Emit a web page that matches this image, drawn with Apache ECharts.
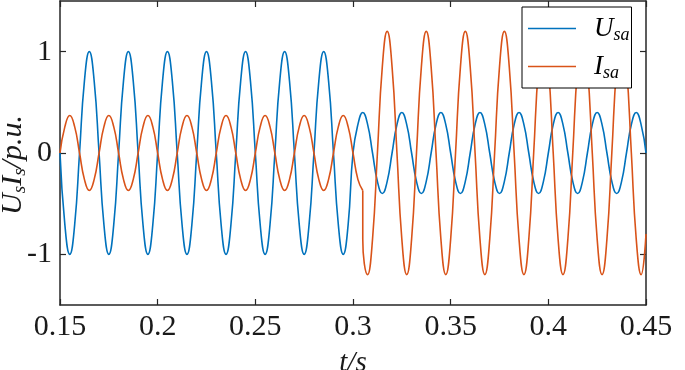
<!DOCTYPE html>
<html><head><meta charset="utf-8">
<script src="https://cdn.jsdelivr.net/npm/echarts@6/dist/echarts.min.js"></script>
<style>html,body{margin:0;padding:0;background:#fff}#c{width:685px;height:370px}</style>
</head><body><div id="c"></div>
<script>
// sample times (s), 1/8 of a 50 Hz period apart
const time = [
0.15,0.1525,0.155,0.1575,0.16,0.1625,0.165,0.1675,
0.17,0.1725,0.175,0.1775,0.18,0.1825,0.185,0.1875,
0.19,0.1925,0.195,0.1975,0.2,0.2025,0.205,0.2075,
0.21,0.2125,0.215,0.2175,0.22,0.2225,0.225,0.2275,
0.23,0.2325,0.235,0.2375,0.24,0.2425,0.245,0.2475,
0.25,0.2525,0.255,0.2575,0.26,0.2625,0.265,0.2675,
0.27,0.2725,0.275,0.2775,0.28,0.2825,0.285,0.2875,
0.29,0.2925,0.295,0.2975,0.3,0.3025,0.305,0.3075,
0.31,0.3125,0.315,0.3175,0.32,0.3225,0.325,0.3275,
0.33,0.3325,0.335,0.3375,0.34,0.3425,0.345,0.3475,
0.35,0.3525,0.355,0.3575,0.36,0.3625,0.365,0.3675,
0.37,0.3725,0.375,0.3775,0.38,0.3825,0.385,0.3875,
0.39,0.3925,0.395,0.3975,0.4,0.4025,0.405,0.4075,
0.41,0.4125,0.415,0.4175,0.42,0.4225,0.425,0.4275,
0.43,0.4325,0.435,0.4375,0.44,0.4425,0.445,0.4475,
0.45
];
// U_sa (p.u.) at each sample time
const usa = [
0,-0.71,-1,-0.71,0,0.71,1,0.71,
0,-0.71,-1,-0.71,0,0.71,1,0.71,
0,-0.71,-1,-0.71,0,0.71,1,0.71,
0,-0.71,-1,-0.71,0,0.71,1,0.71,
0,-0.71,-1,-0.71,0,0.71,1,0.71,
0,-0.71,-1,-0.71,0,0.71,1,0.71,
0,-0.71,-1,-0.71,0,0.71,1,0.71,
0,-0.71,-1,-0.71,0,0.28,0.4,0.28,
0,-0.28,-0.4,-0.28,0,0.28,0.4,0.28,
0,-0.28,-0.4,-0.28,0,0.28,0.4,0.28,
0,-0.28,-0.4,-0.28,0,0.28,0.4,0.28,
0,-0.28,-0.4,-0.28,0,0.28,0.4,0.28,
0,-0.28,-0.4,-0.28,0,0.28,0.4,0.28,
0,-0.28,-0.4,-0.28,0,0.28,0.4,0.28,
0,-0.28,-0.4,-0.28,0,0.28,0.4,0.28,
0
];
// I_sa before the step (times 0.15 .. 0.305)
const isaBefore = [
0,0.26,0.37,0.26,0,-0.26,-0.37,-0.26,
0,0.26,0.37,0.26,0,-0.26,-0.37,-0.26,
0,0.26,0.37,0.26,0,-0.26,-0.37,-0.26,
0,0.26,0.37,0.26,0,-0.26,-0.37,-0.26,
0,0.26,0.37,0.26,0,-0.26,-0.37,-0.26,
0,0.26,0.37,0.26,0,-0.26,-0.37,-0.26,
0,0.26,0.37,0.26,0,-0.26,-0.37,-0.26,
0,0.26,0.37,0.26,0,-0.26,-0.37
];
// I_sa after the step (times 0.305 .. 0.45)
const isaAfter = [
-0.85,
-1.2,-0.85,0,0.85,1.2,0.85,0,-0.85,
-1.2,-0.85,0,0.85,1.2,0.85,0,-0.85,
-1.2,-0.85,0,0.85,1.2,0.85,0,-0.85,
-1.2,-0.85,0,0.85,1.2,0.85,0,-0.85,
-1.2,-0.85,0,0.85,1.2,0.85,0,-0.85,
-1.2,-0.85,0,0.85,1.2,0.85,0,-0.85,
-1.2,-0.85,0,0.85,1.2,0.85,0,-0.85,
-1.2,-0.8
];
const xTicks = [0.15,0.2,0.25,0.3,0.35,0.4,0.45];
const yTicks = [-1,0,1];
const seriesNames = ['Usa','Isa'];

const stepIdx = isaBefore.length - 1;
const usaData = usa.map((v,i)=>[time[i], v]);
const isa1Data = isaBefore.map((v,i)=>[time[i], v]);
const isa2Data = [[time[stepIdx], isaBefore[stepIdx]]].concat(isaAfter.map((v,i)=>[time[stepIdx+i], v]));

const FONT = 'Liberation Serif';
const AXC = '#262626';
const TXT = '#1a1a1a';
const axisLine = {show:true, onZero:false, lineStyle:{color:AXC, width:1.5}};

const chart = echarts.init(document.getElementById('c'), null, {renderer:'canvas'});
chart.setOption({
  animation:false,
  backgroundColor:'#fff',
  grid:{left:60, right:39, top:1, bottom:65, containLabel:false, outerBoundsMode:'none'},
  legend:{
    orient:'vertical', left:522, top:7,
    data:seriesNames,
    icon:'rect', itemWidth:48, itemHeight:1.6, itemGap:7,
    padding:[6,2,6,6],
    backgroundColor:'#fff', borderColor:'#000', borderWidth:1,
    formatter: n => '{m|' + n.charAt(0) + '}{s|' + n.slice(1) + '}',
    textStyle:{
      fontFamily:FONT, color:'#000',
      rich:{
        m:{fontFamily:FONT, fontStyle:'italic', fontSize:27, lineHeight:30, padding:[0,0,0,13], color:'#000'},
        s:{fontFamily:FONT, fontStyle:'italic', fontSize:18, lineHeight:17, padding:[13,0,0,0], color:'#000'}
      }
    }
  },
  xAxis:[{
    type:'value', min:0.15, max:0.45, position:'bottom',
    axisLine:axisLine,
    axisTick:{show:true, inside:true, length:6, customValues:xTicks, lineStyle:{color:AXC, width:1.2}},
    axisLabel:{show:true, customValues:xTicks, margin:7, fontFamily:FONT, fontSize:30, color:TXT,
      formatter:v=>String(Math.round(v*100)/100)},
    splitLine:{show:false},
    name:'t/s', nameLocation:'middle', nameGap:44, nameMoveOverlap:false,
    nameTextStyle:{fontFamily:FONT, fontStyle:'italic', fontSize:29, color:TXT}
  },{
    type:'value', min:0.15, max:0.45, position:'top',
    axisLine:axisLine,
    axisTick:{show:true, inside:true, length:6, customValues:xTicks, lineStyle:{color:AXC, width:1.2}},
    axisLabel:{show:false}, splitLine:{show:false}
  }],
  yAxis:[{
    type:'value', min:-1.5, max:1.5, position:'left',
    axisLine:axisLine,
    axisTick:{show:true, inside:true, length:6, customValues:yTicks, lineStyle:{color:AXC, width:1.2}},
    axisLabel:{show:true, customValues:yTicks, margin:8, fontFamily:FONT, fontSize:30, color:TXT},
    splitLine:{show:false},
    name:'{m|U}{s|s}{m|I}{s|s}{m|/p.u.}', nameLocation:'middle', nameGap:32, nameRotate:90,
    nameMoveOverlap:false,
    nameTextStyle:{fontFamily:FONT, color:TXT, padding:[0,24,0,0],
      rich:{
        m:{fontFamily:FONT, fontStyle:'italic', fontSize:30, lineHeight:30, color:TXT},
        s:{fontFamily:FONT, fontStyle:'italic', fontSize:19, lineHeight:17, padding:[13,0,0,0], color:TXT}
      }}
  },{
    type:'value', min:-1.5, max:1.5, position:'right',
    axisLine:axisLine,
    axisTick:{show:true, inside:true, length:6, customValues:yTicks, lineStyle:{color:AXC, width:1.2}},
    axisLabel:{show:false}, splitLine:{show:false}
  }],
  series:[
    {name:'Usa', type:'line', data:usaData, smooth:0.5, showSymbol:false, symbol:'none',
     itemStyle:{color:'#0072BD'}, lineStyle:{color:'#0072BD', width:1.6}, z:2},
    {name:'Isa', type:'line', data:isa1Data, smooth:0.5, showSymbol:false, symbol:'none',
     itemStyle:{color:'#D95319'}, lineStyle:{color:'#D95319', width:1.6}, z:3},
    {name:'Isa', type:'line', data:isa2Data, smooth:0.5, showSymbol:false, symbol:'none',
     itemStyle:{color:'#D95319'}, lineStyle:{color:'#D95319', width:1.6}, z:3}
  ]
});
</script></body></html>
